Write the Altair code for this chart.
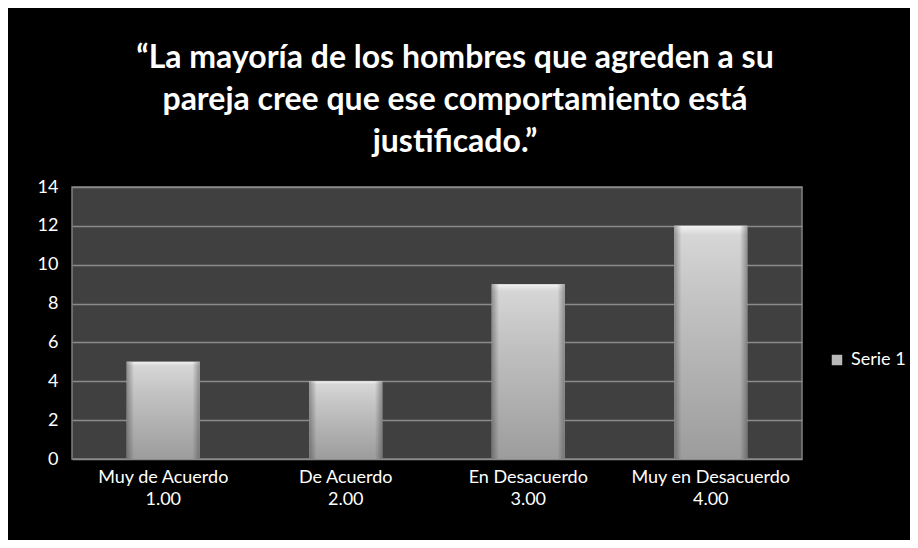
import altair as alt
import pandas as pd

# ---- data ----
categories = ["Muy de Acuerdo", "De Acuerdo", "En Desacuerdo", "Muy en Desacuerdo"]
codes = ["1.00", "2.00", "3.00", "4.00"]
values = [5, 4, 9, 12]
series_name = "Serie 1"
title_lines = [
    "“La mayoría de los hombres que agreden a su",
    "pareja cree que ese comportamiento está",
    "justificado.”",
]
y_ticks = [0, 2, 4, 6, 8, 10, 12, 14]

df = pd.DataFrame({
    "cat": [f"{c}\n{k}" for c, k in zip(categories, codes)],
    "value": values,
    "serie": [series_name] * len(values),
})

FONT = "Lato"

x = alt.X(
    "cat:N", sort=None,
    scale=alt.Scale(paddingInner=0.6, paddingOuter=0.3),
    axis=alt.Axis(title=None, labelExpr="split(datum.label, '\\n')", labelAngle=0,
                  labelFontSize=18, labelColor="white", labelPadding=9,
                  labelLineHeight=22, ticks=False, domain=False, labelFont=FONT),
)
y = alt.Y(
    "value:Q",
    scale=alt.Scale(domain=[0, 14]),
    axis=alt.Axis(values=y_ticks, title=None, grid=True, gridColor="#8a8a8a",
                  gridWidth=1.5, ticks=False, domain=False, labelFontSize=18,
                  labelColor="white", labelPadding=14, labelFont=FONT),
)

base = alt.Chart(df).encode(x=x, y=y)

legend_layer = base.mark_bar().encode(
    color=alt.Color("serie:N", scale=alt.Scale(range=["#b8b8b8"]),
                    legend=alt.Legend(title=None, orient="none", legendX=756, legendY=164,
                                      symbolType="square", symbolSize=110,
                                      labelFontSize=18, labelOffset=5,
                                      labelColor="white", labelFont=FONT,
                                      symbolStrokeWidth=0))
)

vert_grad = {
    "gradient": "linear", "x1": 0, "x2": 0, "y1": 0, "y2": 1,
    "stops": [
        {"offset": 0, "color": "#f2f2f2"},
        {"offset": 0.04, "color": "#d6d6d6"},
        {"offset": 0.3, "color": "#c4c4c4"},
        {"offset": 1, "color": "#9c9c9c"},
    ],
}
side_grad = {
    "gradient": "linear", "x1": 0, "x2": 1, "y1": 0, "y2": 0,
    "stops": [
        {"offset": 0, "color": "rgba(60,60,60,0.45)"},
        {"offset": 0.1, "color": "rgba(60,60,60,0)"},
        {"offset": 0.9, "color": "rgba(60,60,60,0)"},
        {"offset": 1, "color": "rgba(60,60,60,0.45)"},
    ],
}

grad_layer = base.mark_bar(color=vert_grad)
side_layer = base.mark_bar(color=side_grad)

chart = alt.layer(legend_layer, grad_layer, side_layer).properties(
    width=730, height=272,
    autosize=alt.AutoSizeParams(type="none"),
    padding={"left": 64, "top": 179, "right": 108, "bottom": 81},
    background="black",
    title=alt.TitleParams(text=title_lines, anchor="middle", fontSize=32, fontWeight="bold",
                          color="white", font=FONT, lineHeight=42, offset=19, dx=18),
).configure_view(fill="#404040", stroke="#808080", strokeWidth=1.5)

chart.save("out.html", embed_options={"renderer": "svg", "actions": False})
